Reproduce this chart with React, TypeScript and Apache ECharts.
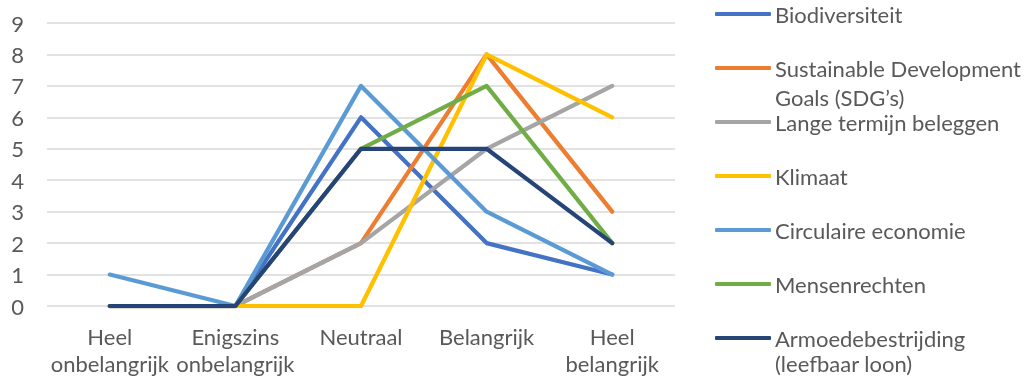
import React, { useEffect, useRef } from "react";
import * as echarts from "echarts";

const categories = ["Heel\nonbelangrijk", "Enigszins\nonbelangrijk", "Neutraal", "Belangrijk", "Heel\nbelangrijk"];
const seriesNames = [
  "Biodiversiteit",
  "Sustainable Development Goals (SDG’s)",
  "Lange termijn beleggen",
  "Klimaat",
  "Circulaire economie",
  "Mensenrechten",
  "Armoedebestrijding (leefbaar loon)",
];
const legendFirstLine: Record<string, string> = {
  "Sustainable Development Goals (SDG’s)": "Sustainable Development",
  "Armoedebestrijding (leefbaar loon)": "Armoedebestrijding",
};
const legendSecondLines = ["Goals (SDG’s)", "(leefbaar loon)"];
const biodiversiteit = [0, 0, 6, 2, 1];
const sdgs = [0, 0, 2, 8, 3];
const langeTermijn = [0, 0, 2, 5, 7];
const klimaat = [0, 0, 0, 8, 6];
const circulair = [1, 0, 7, 3, 1];
const mensenrechten = [0, 0, 5, 7, 2];
const armoede = [0, 0, 5, 5, 2];
const seriesValues = [biodiversiteit, sdgs, langeTermijn, klimaat, circulair, mensenrechten, armoede];
const colors = ["#4472C4", "#ED7D31", "#A5A5A5", "#FFC000", "#5B9BD5", "#70AD47", "#264478"];

const FONT = "Lato";
const TEXT = "#595959";

export default function App() {
  const ref = useRef<HTMLDivElement>(null);
  useEffect(() => {
    if (!ref.current) return;
    const chart = echarts.init(ref.current, undefined, { renderer: "svg" });
    chart.setOption({
      animation: false,
      color: colors,
      textStyle: { fontFamily: FONT },
      grid: { left: 47, right: 353, top: 23, bottom: 71, containLabel: false },
      xAxis: {
        type: "category",
        data: categories,
        boundaryGap: true,
        axisLine: { show: false },
        axisTick: { show: false },
        axisLabel: { color: TEXT, fontSize: 22, lineHeight: 27, margin: 17, fontFamily: FONT, interval: 0 },
      },
      yAxis: {
        type: "value",
        min: 0,
        max: 9,
        interval: 1,
        axisLine: { show: false },
        axisTick: { show: false },
        axisLabel: { color: TEXT, fontSize: 22, margin: 23, fontFamily: FONT },
        splitLine: { lineStyle: { color: "#D9D9D9", width: 1.5 } },
      },
      legend: {
        orient: "vertical",
        left: 715,
        top: 3,
        padding: 0,
        itemWidth: 56,
        itemHeight: 4,
        itemGap: 32,
        icon: "roundRect",
        data: seriesNames,
        formatter: (name: string) => legendFirstLine[name] || name,
        textStyle: { color: TEXT, fontSize: 22, lineHeight: 22, fontFamily: FONT, padding: [0, 0, 0, -1] },
      },
      graphic: [
        { type: "text", left: 775, top: 86, style: { text: legendSecondLines[0], fill: TEXT, font: `22px ${FONT}`, lineHeight: 22 } },
        { type: "text", left: 775, top: 352, style: { text: legendSecondLines[1], fill: TEXT, font: `22px ${FONT}`, lineHeight: 22 } },
      ],
      series: seriesNames.map((name, i) => ({
        name,
        type: "line",
        data: seriesValues[i],
        showSymbol: false,
        symbol: "none",
        lineStyle: { width: 4.25, color: colors[i], cap: "round", join: "round" },
        itemStyle: { color: colors[i] },
      })),
    });
    return () => chart.dispose();
  }, []);
  return <div ref={ref} style={{ position: "fixed", left: 0, top: 0, width: 1028, height: 377 }} />;
}
